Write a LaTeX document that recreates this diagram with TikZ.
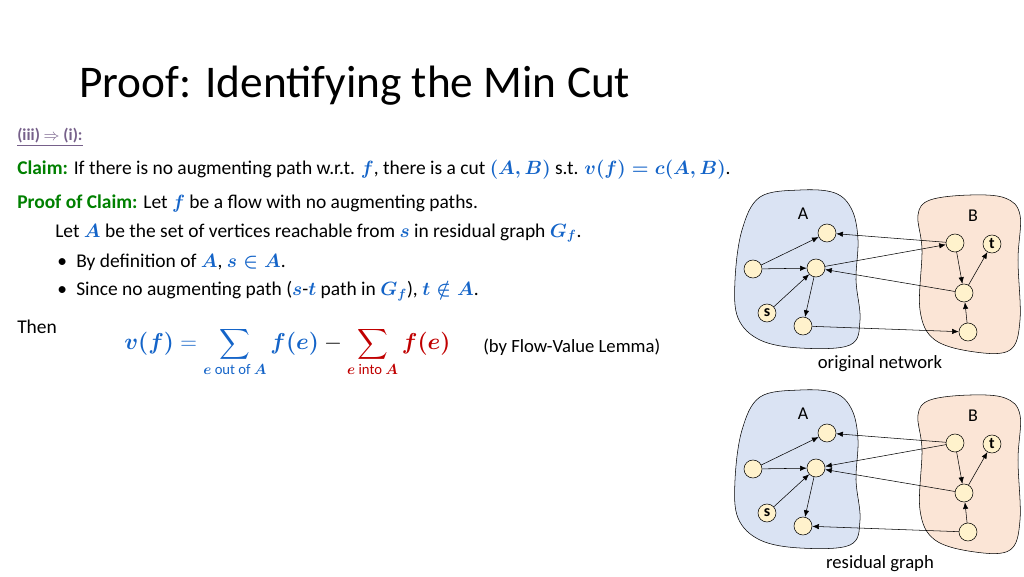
\documentclass[tikz,border=0pt]{standalone}
\usepackage{amsmath,amssymb}
\usepackage{fontspec}
\setmainfont{Carlito}
\usetikzlibrary{arrows.meta}
\definecolor{cgreen}{RGB}{0,128,0}
\definecolor{cblue}{RGB}{20,100,200}
\definecolor{cred}{RGB}{192,0,0}
\definecolor{cpurp}{RGB}{118,96,138}
\definecolor{blobA}{RGB}{218,227,243}
\definecolor{blobB}{RGB}{251,229,214}
\definecolor{vfill}{RGB}{255,242,204}
\newcommand{\bm}[1]{\boldsymbol{#1}}
\begin{document}
\begin{tikzpicture}[x=0.75pt,y=-0.75pt,
  vtx/.style={circle,draw,fill=vfill,minimum size=13.5pt,inner sep=0pt,font=\bfseries\fontsize{12}{12}\selectfont},
  edge/.style={-{Latex[length=5pt,width=4pt]},thin},
  blob/.style={draw,thin},
  txt/.style={anchor=west,inner sep=0pt,font=\fontsize{14.6}{16}\selectfont},
  lbl/.style={font=\fontsize{13.5}{14}\selectfont}]
\useasboundingbox (0,0) rectangle (1024,576);
\node[anchor=west,inner sep=0pt,font=\fontsize{34}{36}\selectfont] (title) at (79,86) {Proof: Identifying the Min Cut};
\node[txt,text=cpurp,font=\bfseries\fontsize{12.5}{13}\selectfont] (iii) at (17,137) {\underline{(iii) $\Rightarrow$ (i):}};
\node[txt] (claim) at (17,170) {\textcolor{cgreen}{\bfseries Claim:} If there is no augmenting path w.r.t. \textcolor{cblue}{$\bm{f}$}, there is a cut \textcolor{cblue}{$\bm{(A,B)}$} s.t. \textcolor{cblue}{$\bm{v(f)=c(A,B)}$}.};
\node[txt] (poc) at (17,204) {\textcolor{cgreen}{\bfseries Proof of Claim:} Let \textcolor{cblue}{$\bm{f}$} be a flow with no augmenting paths.};
\node[txt] (leta) at (55,233) {Let \textcolor{cblue}{$\bm{A}$} be the set of vertices reachable from \textcolor{cblue}{$\bm{s}$} in residual graph \textcolor{cblue}{$\bm{G_f}$}.};
\node[txt] (b1) at (57,262) {\textbullet\hspace{7pt}By definition of \textcolor{cblue}{$\bm{A}$}, \textcolor{cblue}{$\bm{s\in A}$}.};
\node[txt] (b2) at (57,291) {\textbullet\hspace{7pt}Since no augmenting path (\textcolor{cblue}{$\bm{s}$}-\textcolor{cblue}{$\bm{t}$} path in \textcolor{cblue}{$\bm{G_f}$}), \textcolor{cblue}{$\bm{t\notin A}$}.};
\node[txt] (then) at (17,327) {Then};
\node[txt,font=\fontsize{16}{17}\selectfont] (eq) at (124,352) {$\displaystyle \textcolor{cblue}{\bm{v(f)}=\sum_{\bm{e}\text{\fontsize{11}{11}\selectfont\rmfamily\ out of }\bm{A}}\bm{f(e)}}-\textcolor{cred}{\sum_{\bm{e}\text{\fontsize{11}{11}\selectfont\rmfamily\ into }\bm{A}}\bm{f(e)}}$};
\node[txt,font=\fontsize{14}{15}\selectfont] (lemma) at (483,347) {(by Flow-Value Lemma)};

\foreach \dy/\nm/\cap in {0/o/original network,200/r/residual graph}{
 \begin{scope}[yshift=-0.75*\dy pt]
 \fill[blobA] plot[smooth cycle,tension=0.6] coordinates {(760,197)(800,190)(835,193)(852,210)(858,240)(856,280)(860,320)(850,345)(800,348)(760,340)(738,318)(735,280)(742,230)};
 \draw[blob] plot[smooth cycle,tension=0.6] coordinates {(760,197)(800,190)(835,193)(852,210)(858,240)(856,280)(860,320)(850,345)(800,348)(760,340)(738,318)(735,280)(742,230)};
 \fill[blobB] plot[smooth cycle,tension=0.6] coordinates {(930,200)(970,195)(1005,198)(1020,215)(1018,260)(1020,320)(1010,350)(975,352)(935,340)(920,310)(922,250)(918,215)};
 \draw[blob] plot[smooth cycle,tension=0.6] coordinates {(930,200)(970,195)(1005,198)(1020,215)(1018,260)(1020,320)(1010,350)(975,352)(935,340)(920,310)(922,250)(918,215)};
 \node[lbl] (\nm A) at (803,214) {A};
 \node[lbl] (\nm B) at (973,216) {B};
 \node[vtx] (\nm a1) at (827,233) {};
 \node[vtx] (\nm a2) at (753,269) {};
 \node[vtx] (\nm a3) at (816,268) {};
 \node[vtx] (\nm s) at (767,313) {s};
 \node[vtx] (\nm a5) at (803,326) {};
 \node[vtx] (\nm b1) at (955,243) {};
 \node[vtx] (\nm t) at (992,244) {t};
 \node[vtx] (\nm b2) at (964,293) {};
 \node[vtx] (\nm b3) at (968,332) {};
 \node[lbl,font=\fontsize{14}{14}\selectfont] (\nm cap) at (880,364) {\cap};
 \draw[edge] (\nm a2) -- (\nm a1);
 \draw[edge] (\nm a2) -- (\nm a3);
 \draw[edge] (\nm s) -- (\nm a3);
 \draw[edge] (\nm a3) -- (\nm a5);
 \draw[edge] (\nm b1) -- (\nm a1);
 \draw[edge] (\nm b2) -- (\nm a3);
 \draw[edge] (\nm b1) -- (\nm b2);
 \draw[edge] (\nm b2) -- (\nm t);
 \draw[edge] (\nm b3) -- (\nm b2);
 \end{scope}}
\draw[edge] (oa3) -- (ob1);
\draw[edge] (oa5) -- (ob3);
\draw[edge] (rb1) -- (ra3);
\draw[edge] (rb3) -- (ra5);
\end{tikzpicture}
\end{document}
